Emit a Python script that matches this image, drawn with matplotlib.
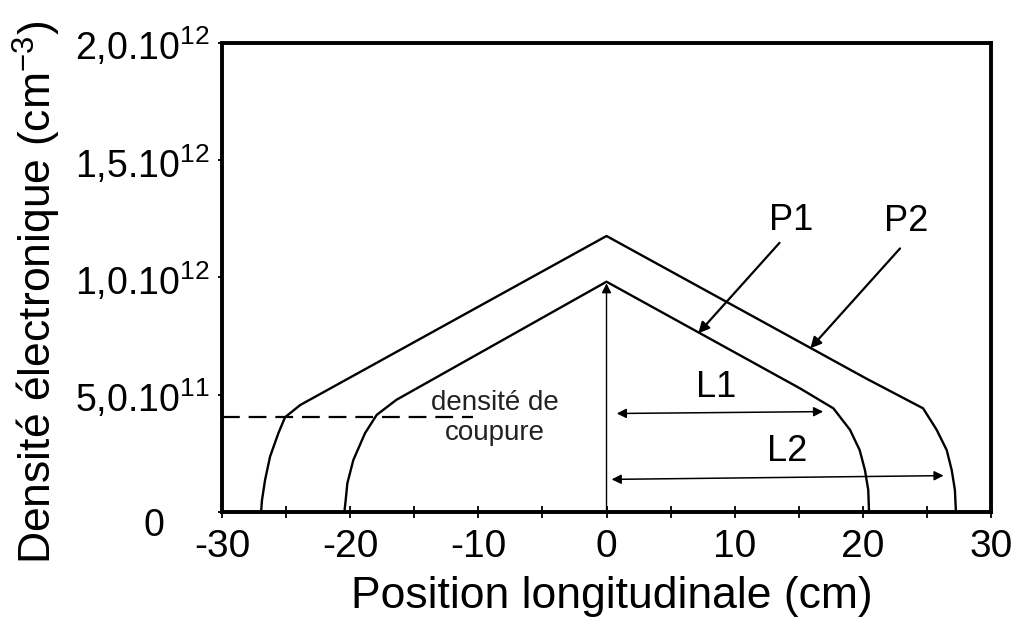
import numpy as np
import matplotlib
matplotlib.use('Agg')
import matplotlib.pyplot as plt
import matplotlib.ticker as ticker
from matplotlib.transforms import ScaledTranslation

plt.rcParams['font.family'] = ['Liberation Sans', 'DejaVu Sans']
plt.rcParams['mathtext.fontset'] = 'custom'
plt.rcParams['mathtext.rm'] = 'Liberation Sans'
plt.rcParams['mathtext.it'] = 'Liberation Sans'
plt.rcParams['mathtext.bf'] = 'Liberation Sans'
plt.rcParams['axes.unicode_minus'] = False

# electron density profiles, in units of 1e12 cm^-3
p1_x = [-20.45, -20.35, -20.22, -19.75, -18.84, -17.93, -16.4, 0.0,
        15.1, 17.7, 19.0, 19.75, 20.16, 20.42, 20.48]
p1_y = [0.0, 0.05, 0.122, 0.222, 0.336, 0.414, 0.478, 0.982,
        0.527, 0.442, 0.35, 0.264, 0.179, 0.094, 0.0]
p2_x = [-26.95, -26.88, -26.64, -26.25, -25.6, -25.08, -23.9, 0.0,
        20.3, 24.7, 25.76, 26.54, 26.93, 27.18, 27.26]
p2_y = [0.0, 0.05, 0.136, 0.236, 0.336, 0.404, 0.456, 1.177,
        0.568, 0.442, 0.35, 0.264, 0.179, 0.094, 0.0]

n_cut = 0.404          # densite de coupure
cut_x = [-30, -10.4]

l1_ends = [(0.8, 0.42), (16.9, 0.428)]
l2_ends = [(0.4, 0.139), (26.3, 0.155)]
peak_arrow = [(0.0, 0.0), (0.0, 0.975)]
p1_arrow = [(13.5, 1.148), (7.16, 0.762)]
p2_arrow = [(22.9, 1.124), (15.9, 0.698)]

yticks = [0, 0.5, 1.0, 1.5, 2.0]
yticklabels = ['0', r'5,0.10$^{11}$', r'1,0.10$^{12}$', r'1,5.10$^{12}$', r'2,0.10$^{12}$']
xticks = [-30, -20, -10, 0, 10, 20, 30]

fig = plt.figure(figsize=(10.15, 6.19), dpi=100)
ax = fig.add_axes([0.2187, 0.1729, 0.7577, 0.7576])

ax.plot(p1_x, p1_y, color='black', lw=1.7)
ax.plot(p2_x, p2_y, color='black', lw=1.7)
ax.plot(cut_x, [n_cut, n_cut], color='black', lw=1.6, linestyle=(0, (8, 4)))

thin = dict(arrowstyle='-|>', color='black', lw=1.0,
            mutation_scale=14, shrinkA=0, shrinkB=0)
both = dict(arrowstyle='<|-|>', color='black', lw=1.1,
            mutation_scale=14, shrinkA=0, shrinkB=0)
bold = dict(arrowstyle='-|>', color='black', lw=1.6,
            mutation_scale=16, shrinkA=0, shrinkB=0)

ax.annotate('', xy=peak_arrow[1], xytext=peak_arrow[0], arrowprops=thin)
ax.annotate('', xy=l1_ends[1], xytext=l1_ends[0], arrowprops=both)
ax.annotate('', xy=l2_ends[1], xytext=l2_ends[0], arrowprops=both)
ax.annotate('', xy=p1_arrow[1], xytext=p1_arrow[0], arrowprops=bold)
ax.annotate('', xy=p2_arrow[1], xytext=p2_arrow[0], arrowprops=bold)

ax.text(14.4, 1.245, 'P1', fontsize=26, ha='center', va='center')
ax.text(23.4, 1.24, 'P2', fontsize=26, ha='center', va='center')
ax.text(8.54, 0.531, 'L1', fontsize=26, ha='center', va='center')
ax.text(14.1, 0.26, 'L2', fontsize=26, ha='center', va='center')
ax.text(-8.72, 0.399, 'densité de\ncoupure', fontsize=20, ha='center',
        va='center', linespacing=1.2, color='#222222')

ax.set_xlim(-30, 30)
ax.set_ylim(0, 2.0)
ax.xaxis.set_major_locator(ticker.FixedLocator(xticks))
ax.xaxis.set_minor_locator(ticker.MultipleLocator(5))
ax.set_yticks(yticks)
ax.set_yticklabels(yticklabels)

for s in ax.spines.values():
    s.set_linewidth(2.8)
ax.tick_params(axis='x', which='both', direction='inout', length=8, width=1.3,
               labelsize=28, pad=8)
ax.tick_params(axis='y', direction='out', length=3, width=1.3,
               labelsize=27, pad=6)

# the zero label sits lower and further left than the others
zero = ax.get_yticklabels()[0]
zero.set_transform(zero.get_transform() +
                   ScaledTranslation(-0.45, -0.10, fig.dpi_scale_trans))

fig.text(0.036, 0.527, 'Densité électronique (cm$^{-3}$)', rotation=90,
         fontsize=32, ha='center', va='center')
fig.text(0.603, 0.037, 'Position longitudinale (cm)', fontsize=32,
         ha='center', va='center')

fig.savefig('out.png', dpi=100)
